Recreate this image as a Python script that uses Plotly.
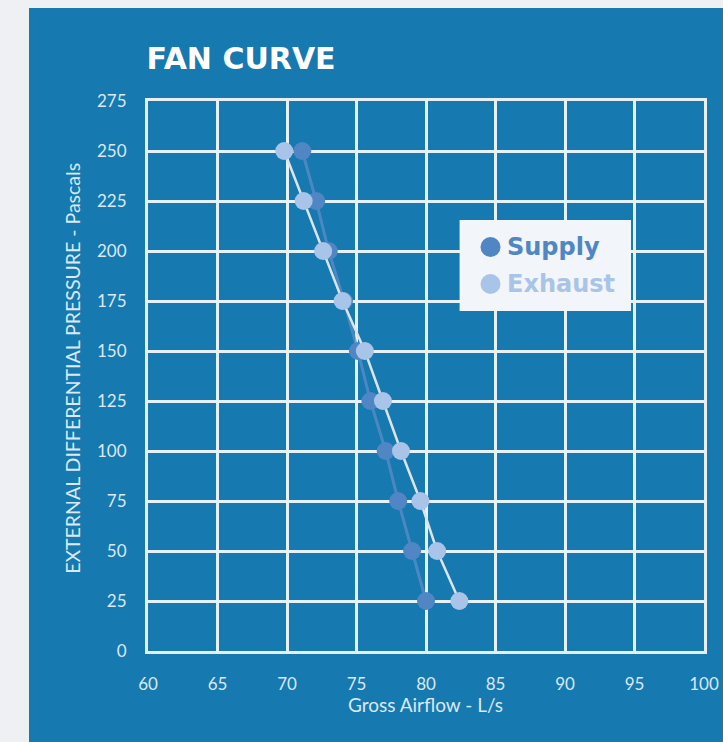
import plotly.graph_objects as go

pressure = [250, 225, 200, 175, 150, 125, 100, 75, 50, 25]
supply_airflow = [71.1, 72.1, 73.0, 74.1, 75.1, 76.0, 77.1, 78.0, 79.0, 80.0]
exhaust_airflow = [69.8, 71.2, 72.6, 74.0, 75.6, 76.9, 78.2, 79.6, 80.8, 82.4]
series_names = ["Supply", "Exhaust"]
x_ticks = [60, 65, 70, 75, 80, 85, 90, 95, 100]
y_ticks = [0, 25, 50, 75, 100, 125, 150, 175, 200, 225, 250, 275]

BLUE = "#1679b0"
GRID = "#e6f2fa"
TICK = "#dbe9f5"
SUPPLY = "#4f86c3"
EXHAUST = "#a8c4e8"
FONT = "Lato, Open Sans, sans-serif"
BOLD = "DejaVu Sans, sans-serif"

# target (reference) pixel geometry, with horizontal compensation factor
W0, H = 723, 742
KX = 731 / 723
W = round(W0 * KX)
L, R, T, B = round(146 * KX), round(19 * KX), 101, 91
pw, ph = W - L - R, H - T - B


def px_x(p):
    return (p * KX - L) / pw


def px_y(p):
    return (H - B - p) / ph


fig = go.Figure()

fig.add_trace(go.Scatter(
    x=supply_airflow, y=pressure, mode="lines+markers", name=series_names[0],
    showlegend=False,
    line=dict(color="rgba(95,140,200,0.75)", width=3),
    marker=dict(size=18, color=SUPPLY, line=dict(width=0)),
))
fig.add_trace(go.Scatter(
    x=exhaust_airflow, y=pressure, mode="lines+markers", name=series_names[1],
    showlegend=False,
    line=dict(color="#dce5ee", width=2.5),
    marker=dict(size=18, color=EXHAUST, line=dict(width=0)),
))

axis_common = dict(
    showgrid=True, gridcolor=GRID, gridwidth=2.5,
    showline=True, linecolor="#e9eef3", linewidth=3, mirror=True,
    zeroline=False, ticks="",
    tickfont=dict(family=FONT, size=17, color=TICK),
)

shapes = [dict(
    type="rect", xref="paper", yref="paper", layer="below",
    x0=px_x(27), x1=px_x(W0 + 10), y0=px_y(H + 5), y1=px_y(8),
    fillcolor=BLUE, line=dict(width=0),
)]
# manual legend box
shapes.append(dict(
    type="rect", xref="paper", yref="paper", layer="above",
    x0=px_x(459), x1=px_x(631), y0=px_y(311), y1=px_y(220),
    fillcolor="#f2f5f9", line=dict(width=0),
))
annotations = []
for name, color, cy in [(series_names[0], SUPPLY, 247), (series_names[1], EXHAUST, 284)]:
    shapes.append(dict(
        type="circle", xref="paper", yref="paper", layer="above",
        xsizemode="pixel", ysizemode="pixel",
        xanchor=px_x(490), yanchor=px_y(cy),
        x0=-10, x1=10, y0=-10, y1=10,
        fillcolor=color, line=dict(width=0),
    ))
    annotations.append(dict(
        xref="paper", yref="paper", x=px_x(505), y=px_y(cy),
        xanchor="left", yanchor="middle", showarrow=False,
        text=f"<b>{name}</b>",
        font=dict(family=BOLD, size=24, color=color),
    ))

# axis titles
annotations.append(dict(
    xref="paper", yref="paper", x=px_x(425), y=px_y(704),
    xanchor="center", yanchor="middle", showarrow=False,
    text="Gross Airflow - L/s", font=dict(family=FONT, size=19, color=TICK),
))
annotations.append(dict(
    xref="paper", yref="paper", x=px_x(70), y=px_y(368),
    xanchor="center", yanchor="middle", showarrow=False, textangle=-90,
    text="EXTERNAL DIFFERENTIAL PRESSURE - Pascals",
    font=dict(family=FONT, size=19.5, color=TICK),
))

fig.update_layout(
    width=W, height=H,
    margin=dict(l=L, r=R, t=T, b=B),
    paper_bgcolor="#eef0f3",
    plot_bgcolor=BLUE,
    title=dict(
        text="<b>FAN CURVE</b>",
        font=dict(family=BOLD, size=30, color="white"),
        x=145 * KX / W, xref="container", xanchor="left",
        y=1 - 58 / H, yref="container", yanchor="middle",
    ),
    xaxis=dict(range=[60, 100], tickvals=x_ticks, ticklabelstandoff=16, **axis_common),
    yaxis=dict(range=[0, 275], tickvals=y_ticks, ticklabelstandoff=15, **axis_common),
    showlegend=False,
    shapes=shapes,
    annotations=annotations,
)

fig.write_html(
    "out.html",
    config={"displayModeBar": False},
    post_script=(
        "document.documentElement.style.margin='0';"
        "document.documentElement.style.overflow='hidden';"
        "document.body.style.margin='0';"
        "document.body.style.overflow='hidden';"
    ),
)
